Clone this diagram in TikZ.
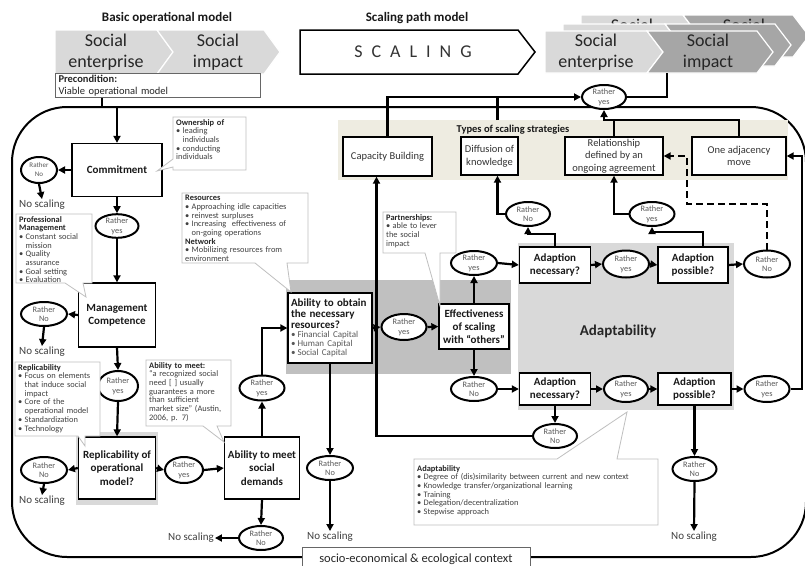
\documentclass[tikz,border=0pt]{standalone}
\usepackage{fontspec}
\setmainfont{Carlito}
\usetikzlibrary{arrows.meta,shapes.geometric,calc}
\definecolor{lg}{HTML}{D9D9D9}
\definecolor{dg}{HTML}{A6A6A6}
\definecolor{beige}{HTML}{EEECE1}
\definecolor{midg}{HTML}{C0C0C0}
\definecolor{cobord}{HTML}{BFBFBF}
\definecolor{txg}{HTML}{595959}
\definecolor{txd}{HTML}{404040}
\newcommand\bit[1]{\par\hangindent=6.5pt\hangafter=1\makebox[6.5pt][l]{\textbullet}#1}
\newcommand\chd{\color{black!85}\bfseries}
\newcommand\gp{\hspace{9pt}}
\begin{document}
\begin{tikzpicture}[x=1pt,y=-1pt,
 conn/.style={line width=2.2pt,-{Triangle[length=7pt,width=7pt]}},
 plainc/.style={line width=2.2pt},
 dconn/.style={line width=2.2pt,dash pattern=on 7pt off 4pt,-{Triangle[length=7pt,width=7pt]}},
 flowbox/.style={draw,line width=1.3pt,fill=white,align=center,inner sep=1pt,font=\fontsize{11}{13.3}\selectfont\bfseries,text=black!90},
 strat/.style={draw,line width=1.3pt,fill=white,align=center,inner sep=1pt,font=\fontsize{10.5}{12.6}\selectfont,text=black!80},
 rather/.style={ellipse,draw,line width=2pt,fill=white,inner sep=0pt,minimum width=45pt,minimum height=25pt,align=center,font=\fontsize{8.3}{9.6}\selectfont,text=txg},
 noscal/.style={inner sep=1pt,font=\fontsize{11}{13}\selectfont,text=txd},
 cobox/.style={draw=cobord,line width=0.8pt,fill=white},
 cotext/.style={anchor=north west,align=left,inner sep=0pt,font=\fontsize{8.4}{8.7}\selectfont,text=txd},
 chevtext/.style={align=center,inner sep=0pt,font=\fontsize{18}{21.5}\selectfont,text=black!85},
 ttl/.style={inner sep=0pt,font=\fontsize{13}{15}\selectfont\bfseries,text=black!90},
 chevL/.style={fill=lg,draw=white,line width=1.2pt},
 chevD/.style={fill=dg,draw=white,line width=1.2pt}]
\useasboundingbox (0,0) rectangle (805,565);
\fill[white] (0,0) rectangle (805,565);

% titles
\node[ttl] (t1) at (167,18) {Basic operational model};
\node[ttl] (t2) at (417,18) {Scaling path model};

% basic chevrons
\filldraw[chevL] (55,30) -- (157,30) -- (173,52) -- (157,74) -- (55,74) -- cycle;
\filldraw[chevL] (157,30) -- (264,30) -- (280,52) -- (264,74) -- (157,74) -- (173,52) -- cycle;
\node[chevtext] (bse) at (106,52) {Social\\enterprise};
\node[chevtext] (bsi) at (218,52) {Social\\impact};

% scaling arrow
\filldraw[fill=white,draw=black,line width=1.5pt] (300,30) -- (518,30) -- (535,52) -- (518,74) -- (300,74) -- cycle;
\node[inner sep=0pt,font=\fontsize{18}{20}\selectfont,text=black!80] (scal) at (413,52) {S\gp C\gp A\gp L\gp I\gp N\gp G};

% stacked chevrons (back to front)
\begin{scope}[shift={(36,-16)}]
 \filldraw[chevL] (545,31) -- (647,31) -- (663,52) -- (647,73) -- (545,73) -- cycle;
 \filldraw[chevD] (647,31) -- (757,31) -- (773,52) -- (757,73) -- (647,73) -- (663,52) -- cycle;
 \node[chevtext] (rsec) at (596,41.25) {Social};
 \node[chevtext] (rsic) at (708,41.25) {Social};
\end{scope}
\begin{scope}[shift={(18,-7)}]
 \filldraw[chevL] (545,31) -- (647,31) -- (663,52) -- (647,73) -- (545,73) -- cycle;
 \filldraw[chevD] (647,31) -- (757,31) -- (773,52) -- (757,73) -- (647,73) -- (663,52) -- cycle;
\end{scope}
\filldraw[chevL] (545,31) -- (647,31) -- (663,52) -- (647,73) -- (545,73) -- cycle;
\filldraw[chevD] (647,31) -- (757,31) -- (773,52) -- (757,73) -- (647,73) -- (663,52) -- cycle;
\node[chevtext] (rsea) at (596,52) {Social\\enterprise};
\node[chevtext] (rsia) at (708,52) {Social\\impact};

% frame
\draw[line width=2pt,rounded corners=55pt] (12,330) -- (12,107) -- (806,107) -- (806,557) -- (12,557) -- cycle;

% precondition
\node[draw=black!60,line width=1pt,fill=white,minimum width=205,minimum height=24,anchor=north west,text width=199,align=left,inner xsep=3pt,inner ysep=1pt,font=\fontsize{10.5}{11.5}\selectfont,text=black!85] (precond) at (55,73) {\textbf{Precondition:}\\Viable operational model};

% line from diffusion box, hidden below the strategies band
\coordinate (dtop) at (497.5,120);

% regions
\fill[beige] (338,120) rectangle (788,180);
\fill[midg] (286,280) rectangle (511,374);
\fill[lg] (518,243) rectangle (734,410);
\fill[lg] (76,432) rectangle (158,505);
\node[inner sep=0pt,font=\fontsize{10.5}{12}\selectfont\bfseries,text=black!90] (tss) at (513,130) {Types of scaling strategies};
\node[inner sep=0pt,font=\fontsize{15}{17}\selectfont\bfseries,text=black!85] (adl) at (618,331) {Adaptability};

% boxes
\node[flowbox,minimum width=90,minimum height=53] (commit) at (117,170) {Commitment};
\node[flowbox,minimum width=77,minimum height=64] (mgmt) at (117,315) {Management\\Competence};
\node[flowbox,minimum width=77,minimum height=62] (repl) at (117,468) {Replicability of\\operational\\model?};
\node[flowbox,minimum width=75,minimum height=62] (meet) at (262,468) {Ability to meet\\social\\demands};
\node[draw,line width=1.3pt,fill=white,minimum width=84,minimum height=70,text width=78,align=left,inner sep=3pt] (obtain) at (330,328) {{\fontsize{11}{11}\selectfont\bfseries\color{black!90}Ability to obtain\newline the necessary\newline resources?\par}{\fontsize{9}{8.8}\selectfont\color{txg}\bit{Financial Capital}\bit{Human Capital}\bit{Social Capital}\par}};
\node[flowbox,minimum width=70,minimum height=45] (eff) at (474,326.5) {Effectiveness\\of scaling\\with “others”};
\node[flowbox,minimum width=71,minimum height=36] (nec1) at (555,265) {Adaption\\necessary?};
\node[flowbox,minimum width=70,minimum height=36] (pos1) at (693,265) {Adaption\\possible?};
\node[flowbox,minimum width=71,minimum height=32] (nec2) at (555,389) {Adaption\\necessary?};
\node[flowbox,minimum width=73,minimum height=32] (pos2) at (694.5,389) {Adaption\\possible?};

% strategies
\node[strat,minimum width=89,minimum height=39] (cap) at (387.5,156.5) {Capacity Building};
\node[strat,minimum width=57,minimum height=38] (diff) at (489.5,156) {Diffusion of\\knowledge};
\node[strat,minimum width=98,minimum height=38] (rel) at (614,156) {Relationship\\defined by an\\ongoing agreement};
\node[strat,minimum width=94,minimum height=38] (adj) at (739,156) {One adjacency\\move};

% ellipses
\node[rather,minimum width=36,minimum height=26,font=\fontsize{7}{9}\selectfont] (e1) at (39,170) {Rather\\No};
\node[rather,minimum width=43,minimum height=23] (e2) at (117,226) {Rather\\yes};
\node[rather,minimum width=46,minimum height=24] (e3) at (44,314) {Rather\\No};
\node[rather,minimum width=40,minimum height=30] (e4) at (118,386) {Rather\\yes};
\node[rather,minimum width=46,minimum height=26] (e5) at (44,470) {Rather\\No};
\node[rather,minimum width=38,minimum height=26] (e6) at (184,470) {Rather\\yes};
\node[rather] (e7) at (262,388) {Rather\\yes};
\node[rather,minimum width=44,minimum height=24] (e8) at (261,538) {Rather\\No};
\node[rather,minimum width=46,minimum height=24] (e9) at (330,468) {Rather\\No};
\node[rather,minimum height=26] (e10) at (404,327) {Rather\\yes};
\node[rather,minimum width=46,minimum height=24] (e11) at (474,263) {Rather\\yes};
\node[rather,minimum width=46,minimum height=24] (e12) at (474,389) {Rather\\No};
\node[rather,minimum width=44,minimum height=24] (e13) at (528,214) {Rather\\No};
\node[rather,minimum width=46,minimum height=27] (e14) at (626,264) {Rather\\yes};
\node[rather,minimum width=46,minimum height=27] (e15) at (767,264) {Rather\\No};
\node[rather,minimum height=24] (e16) at (652,214) {Rather\\yes};
\node[rather,minimum width=44,minimum height=26] (e17) at (626,389) {Rather\\yes};
\node[rather,minimum height=26] (e18) at (767,389) {Rather\\yes};
\node[rather,minimum width=44,minimum height=24] (e19) at (555,436) {Rather\\No};
\node[rather,minimum width=44,minimum height=24] (e20) at (694.5,469) {Rather\\No};
\node[rather,minimum width=44,minimum height=24] (e21) at (604,97) {Rather\\yes};

% no scaling
\node[noscal] (ns1) at (42,205) {No scaling};
\node[noscal] (ns2) at (42,352) {No scaling};
\node[noscal] (ns3) at (42,501) {No scaling};
\node[noscal] (ns4) at (191,538) {No scaling};
\node[noscal] (ns5) at (330,537) {No scaling};
\node[noscal] (ns6) at (694,537) {No scaling};

% connectors
\coordinate (fa) at (102,107);
\coordinate (fb) at (117,107);
\draw[plainc] (precond.south -| fa) -- (fa);
\draw[conn] (fb) -- (commit.north);
\draw[conn] (commit.west) -- (e1.east);
\draw[conn] (e1.south) -- (ns1.north);
\draw[conn] (commit.south) -- (e2.north);
\draw[conn] (e2.south) -- (mgmt.north);
\draw[conn] (mgmt.west) -- (e3.east);
\draw[conn] (e3.south) -- (ns2.north);
\draw[conn] (mgmt.south) -- (e4.north);
\draw[conn] (e4.south) -- (repl.north);
\draw[conn] (repl.west) -- (e5.east);
\draw[conn] (e5.south) -- (ns3.north);
\draw[conn] (repl.east) -- (e6.west);
\draw[conn] (e6.east) -- (meet.west);
\draw[conn] (meet.north) -- (e7.south);
\draw[conn] (e7.north) |- (obtain.west);
\draw[conn] (meet.south) -- (e8.north);
\draw[conn] (e8.west) -- (ns4.east);
\draw[conn] (obtain.south) -- (e9.north);
\draw[conn] (e9.south) -- (ns5.north);
\draw[conn] (obtain.east) -- (e10.west);
\draw[conn] (e10.east) -- (eff.west);
\draw[conn] (eff.north) -- (e11.south);
\draw[conn] (e11.east) -- (nec1.west);
\draw[conn] (eff.south) -- (e12.north);
\draw[conn] (e12.east) -- (nec2.west);
\draw[conn] (nec1.north) -- ++(0,-12) -| (e13.south);
\draw[conn] (e13.west) -| ([xshift=8pt]diff.south);
\draw[conn] (nec1.east) -- (e14.west);
\draw[conn] (e14.east) -- (pos1.west);
\draw[conn] (pos1.east) -- (e15.west);
\draw[conn] ([xshift=10pt]pos1.north) -- ++(0,-14) -| (e16.south);
\draw[conn] (e16.west) -| (rel.south);
\coordinate (dk) at (687,204);
\draw[dconn] (e15.north) |- (dk) |- (rel.east);
\draw[conn] (nec2.east) -- (e17.west);
\draw[conn] (e17.east) -- (pos2.west);
\draw[conn] (pos2.east) -- (e18.west);
\coordinate (rr) at (802,389);
\draw[conn] (e18.east) -- (rr) |- (adj.east);
\draw[conn] (nec2.south) -- (e19.north);
\draw[conn] (e19.west) -| ([xshift=-11pt]cap.south);
\draw[conn] (pos2.south) -- (e20.north);
\draw[conn] (e20.south) -- (ns6.north);
\draw[conn] (cap.north) |- (e21.west);
\draw[plainc] (dtop) -- (dtop |- e21.west);
\draw[conn] (adj.north) -- ++(0,-16) -| (e21.south);
\draw[plainc] (rel.north) -- ++(0,-16);
\coordinate (si) at (667,73);
\draw[plainc] (e21.east) -| (si);

% context box
\node[draw=black!60,line width=1pt,fill=white,minimum width=228,minimum height=24,anchor=north,font=\fontsize{12.5}{14}\selectfont,text=black!85] (ctx) at (416,547) {socio-economical \& ecological context};

% callouts
\draw[cobox] (173,117) -- (246,117) -- (246,170) -- (173,170) -- (173,167) -- (157,171) -- (173,159) -- cycle;
\node[cotext,text width=68] (cown) at (176,119) {{\chd Ownership of}\bit{leading\newline individuals}\bit{conducting\newline individuals}};

\draw[cobox] (16,214) -- (92,214) -- (92,283) -- (83,283) -- (86,297) -- (65,283) -- (16,283) -- cycle;
\node[cotext,text width=72] (cpm) at (19,216) {{\chd Professional\newline Management}\bit{Constant social\newline mission}\bit{Quality\newline assurance}\bit{Goal setting}\bit{Evaluation}};

\draw[cobox] (182,193) -- (308,193) -- (308,263) -- (287,263) -- (291,292) -- (255,263) -- (182,263) -- cycle;
\node[cotext,text width=122] (cres) at (185,195) {{\chd Resources}\bit{Approaching idle capacities}\bit{reinvest surpluses}\bit{Increasing\ \ effectiveness of\newline on-going operations}\par{\chd Network}\bit{Mobilizing resources from\newline environment}};

\draw[cobox] (15,362) -- (100,362) -- (100,436) -- (85,436) -- (85,446) -- (78,436) -- (15,436) -- cycle;
\node[cotext,text width=80] (crep) at (18,364) {{\chd Replicability}\bit{Focus on elements\newline that induce social\newline impact}\bit{Core of the\newline operational model}\bit{Standardization}\bit{Technology}};

\draw[cobox] (146,360) -- (231,360) -- (231,426) -- (217,426) -- (224,442) -- (203,426) -- (146,426) -- cycle;
\node[cotext,text width=82] (cmeet) at (149,362) {{\chd Ability to meet:}\par “a recognized social\newline need [ ] usually\newline guarantees a more\newline than sufficient\newline market size” (Austin,\newline 2006, p. 7)};

\draw[cobox] (383,212) -- (456,212) -- (456,253) -- (440,253) -- (440,306) -- (425,253) -- (383,253) -- cycle;
\node[cotext,text width=70] (cpart) at (386,214) {{\chd Partnerships:}\bit{able to lever\newline the social\newline impact}};

\draw[cobox] (414,459) -- (557,459) -- (627,412) -- (617,459) -- (658,459) -- (658,525) -- (414,525) -- cycle;
\node[cotext,text width=238] (cadp) at (417,465) {{\chd Adaptability}\bit{Degree of (dis)similarity between current and new context}\bit{Knowledge transfer/organizational learning}\bit{Training}\bit{Delegation/decentralization}\bit{Stepwise approach}};
\end{tikzpicture}
\end{document}
